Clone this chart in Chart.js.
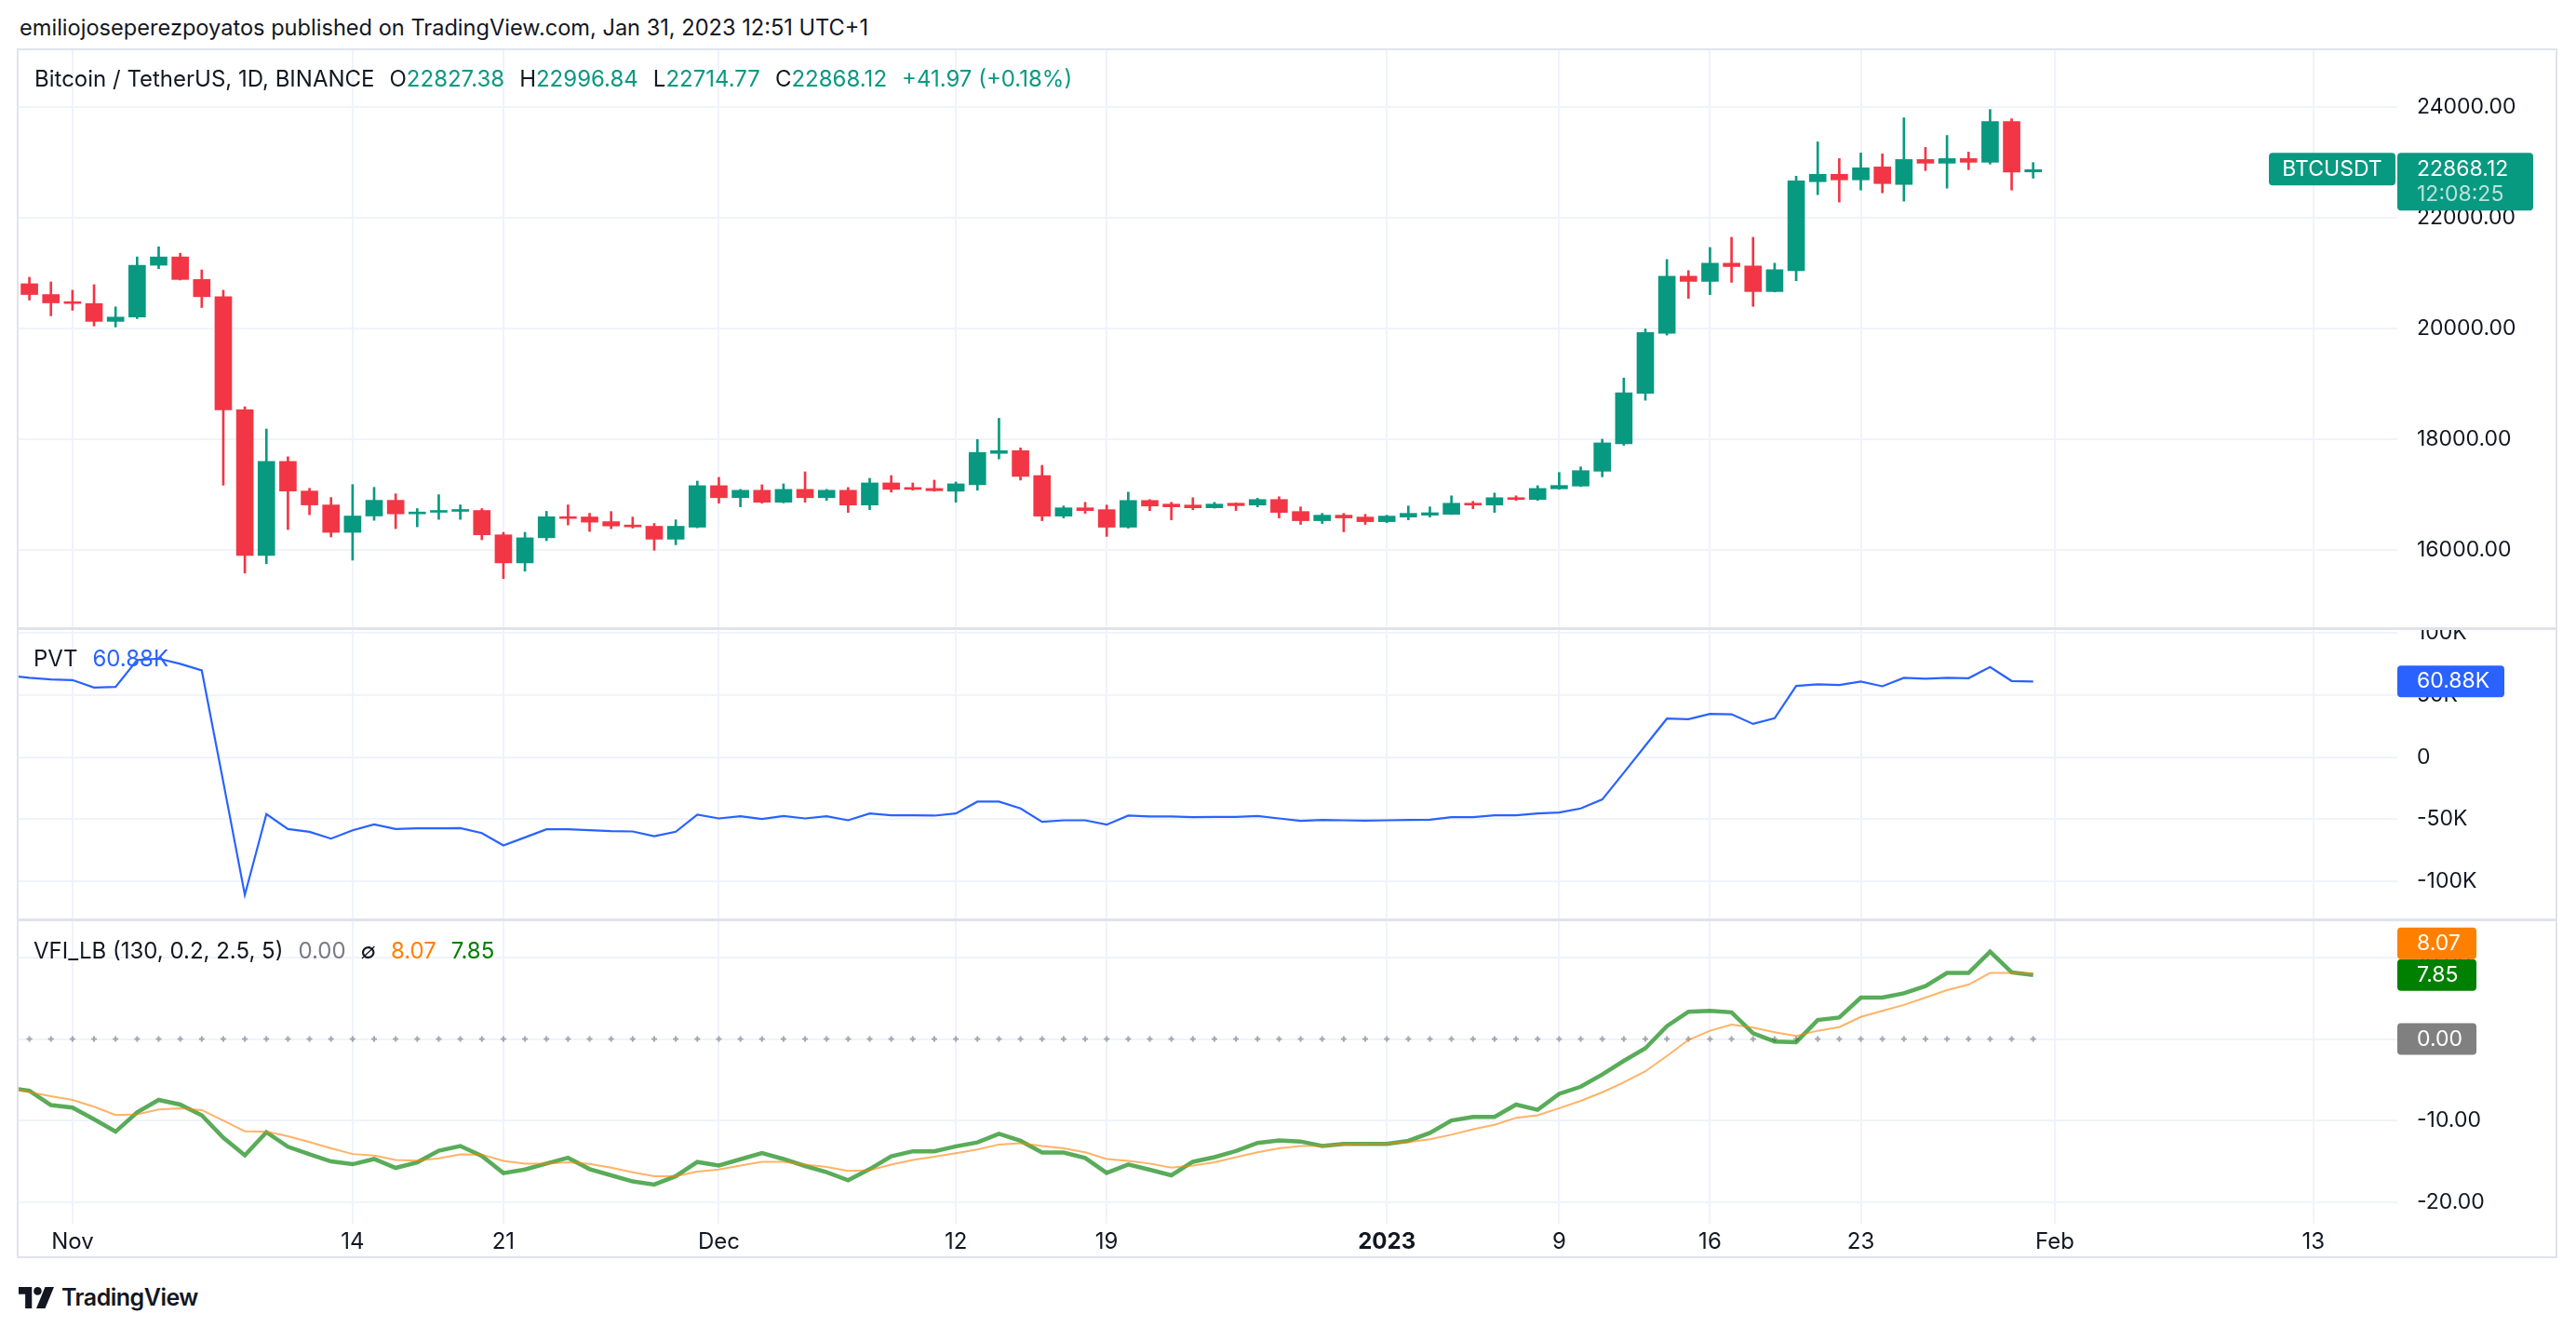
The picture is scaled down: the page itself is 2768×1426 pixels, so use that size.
<!DOCTYPE html>
<html>
<head>
<meta charset="utf-8">
<script src="https://cdn.jsdelivr.net/npm/chart.js@4.4.1/dist/chart.umd.min.js"></script>
<style>
  body { margin: 0; background: #fff; width: 2768px; height: 1426px; overflow: hidden; position: relative;
         font-family: Inter, "Noto Sans", sans-serif; color: #131722; }
  canvas { position: absolute; left: 0; }
  .txt { position: absolute; white-space: nowrap; font-size: 24px; line-height: 30px; }
  .k { margin-left: 16px; }
  .up { color: #089981; }
  #frame { position: absolute; left: 18px; top: 52px; width: 2730px; height: 1300px; box-sizing: border-box;
           border: 2px solid #E0E3EB; }
  .sep { position: absolute; left: 18px; width: 2730px; height: 3px; background: #E0E3EB; }
</style>
</head>
<body>
<div class="txt" style="left:21px;top:15px;font-size:23.6px">emiliojoseperezpoyatos published on TradingView.com, Jan 31, 2023 12:51 UTC+1</div>

<canvas id="cPrice" width="2768" height="623" style="top:53px"></canvas>
<canvas id="cPvt" width="2768" height="313" style="top:676px"></canvas>
<canvas id="cVfi" width="2768" height="363" style="top:989px"></canvas>

<div id="frame"></div>
<div class="sep" style="top:674px"></div>
<div class="sep" style="top:987px"></div>

<div class="txt" style="left:37px;top:70px">
  <span>Bitcoin / TetherUS, 1D, BINANCE</span><span class="k">O</span><span class="up" id="lgO"></span><span class="k">H</span><span class="up" id="lgH"></span><span class="k">L</span><span class="up" id="lgL"></span><span class="k">C</span><span class="up" id="lgC"></span><span class="k up" id="lgChg"></span>
</div>
<div class="txt" style="left:36px;top:693px"><span>PVT</span><span class="k" style="color:#2962FF" id="lgPvt"></span></div>
<div class="txt" style="left:36px;top:1007px">
  <span>VFI_LB (130, 0.2, 2.5, 5)</span><span class="k" style="color:#787B86" id="lgZero"></span><span class="k">∅</span><span class="k" style="color:#FF8000" id="lgSig"></span><span class="k" style="color:#008000" id="lgVfi"></span>
</div>

<div style="position:absolute;left:20px;top:1379px;display:flex;align-items:center">
  <svg width="38" height="23" viewBox="0 0 40 24">
    <path d="M0 0H15V24H7.5V8H0Z" fill="#131722"/>
    <circle cx="21.5" cy="4.5" r="4.5" fill="#131722"/>
    <path d="M30 0H40L30 24H20Z" fill="#131722"/>
  </svg>
  <span style="margin-left:8px;font-size:25px;font-weight:600;letter-spacing:-0.5px">TradingView</span>
</div>

<script>
// daily BTCUSDT candles, 30 Oct 2022 .. 31 Jan 2023 (x = bar index)
const opens = [20808,20613,20462,20451,20128,20206,21142,21292,20885,20574,
  18530,15900,17599,17064,16813,16318,16613,16897,16652,16680,
  16697,16713,16273,15766,16220,16600,16596,16511,16444,16428,
  16194,16411,17161,16944,17078,16861,17094,16944,17078,16811,
  17211,17128,17111,17061,17178,17744,17794,17344,16611,16761,
  16728,16411,16894,16828,16811,16761,16844,16811,16911,16694,
  16528,16628,16594,16511,16594,16628,16644,16844,16811,16944,
  16911,17104,17154,17422,17918,18827,19914,20945,20850,21179,
  21129,20666,21045,22651,22785,22684,22918,22601,23052,22985,
  23069,23002,23738,22827.38];
const highs = [20925,20841,20691,20791,20390,21292,21476,21359,21058,20691,
  18585,18184,17683,17114,16947,17181,17131,17014,16747,16998,
  16814,16747,16318,16318,16697,16814,16663,16694,16594,16478,
  16544,17244,17311,17094,17178,17194,17411,17094,17128,17294,
  17344,17211,17261,17228,17994,18378,17844,17528,16794,16861,
  16811,17044,16911,16861,16944,16861,16850,16933,16961,16778,
  16661,16661,16644,16628,16794,16778,16978,16878,17028,16978,
  17161,17399,17500,18001,19105,19992,21246,21045,21463,21647,
  21647,21179,22751,23370,23069,23169,23153,23805,23270,23487,
  23186,23955,23788,22996.84];
const lows = [20513,20228,20329,20045,20028,20178,21081,20875,20379,17170,
  15582,15750,16368,16635,16234,15816,16535,16384,16418,16552,
  16552,16184,15482,15616,16167,16451,16334,16383,16394,15994,
  16094,16400,16844,16778,16844,16850,16861,16894,16678,16728,
  17044,17078,17060,16861,17078,17644,17261,16528,16578,16661,
  16244,16394,16711,16544,16728,16755,16711,16778,16578,16461,
  16478,16328,16461,16494,16544,16594,16640,16744,16678,16894,
  16894,17094,17144,17321,17890,18704,19880,20544,20610,20833,
  20399,20660,20861,22417,22283,22500,22450,22300,22852,22534,
  22868,22969,22500,22714.77];
const closes = [20613,20462,20451,20128,20206,21142,21292,20885,20574,18530,
  15900,17599,17064,16813,16318,16613,16897,16652,16680,16697,
  16713,16273,15766,16220,16600,16568,16502,16433,16417,16194,
  16428,17161,16944,17078,16861,17094,16944,17078,16811,17211,
  17094,17094,17070,17194,17761,17794,17328,16611,16761,16711,
  16411,16894,16794,16778,16761,16828,16800,16911,16678,16528,
  16628,16578,16511,16611,16661,16672,16844,16811,16944,16911,
  17111,17165,17433,17934,18838,19925,20945,20850,21179,21118,
  20666,21062,22668,22785,22684,22902,22617,23052,22985,23069,
  23002,23738,22826.15,22868.12];

// indicator series start one bar earlier (29 Oct), so the lines enter from the left edge
const pvt = [65750,
  63750,62500,62000,56000,56500,78000,79250,75000,69750,-20000,
  -110750,-45750,-57750,-60000,-65500,-58750,-54000,-57750,-57250,-57250,
  -57000,-61000,-71000,-64500,-58000,-58000,-58750,-59500,-59750,-63500,
  -60000,-46250,-49250,-47500,-49750,-47250,-49250,-47500,-50750,-45250,
  -46750,-46750,-47000,-45250,-35750,-35750,-41250,-52000,-50750,-50750,
  -54250,-47000,-47750,-47750,-48250,-48000,-48000,-47250,-49250,-51250,
  -50500,-50750,-51000,-50750,-50500,-50250,-48250,-48250,-46750,-46750,
  -45250,-44500,-41250,-34000,-12500,9250,31000,30500,34750,34500,
  26750,31250,57250,58500,58000,60750,57000,63750,63000,63750,
  63500,72500,61250,60880];

const vfi = [-5.96,
  -6.34,-8.11,-8.42,-9.85,-11.36,-8.98,-7.47,-8.04,-9.36,-12.11,
  -14.26,-11.43,-13.21,-14.15,-15.02,-15.36,-14.72,-15.81,-15.13,-13.70,
  -13.13,-14.34,-16.45,-16.00,-15.28,-14.57,-15.96,-16.72,-17.47,-17.85,
  -16.83,-15.09,-15.51,-14.75,-14.00,-14.72,-15.58,-16.34,-17.32,-15.96,
  -14.38,-13.77,-13.77,-13.17,-12.68,-11.62,-12.49,-13.92,-13.92,-14.60,
  -16.42,-15.40,-16.04,-16.72,-15.06,-14.49,-13.74,-12.75,-12.45,-12.57,
  -13.13,-12.87,-12.87,-12.87,-12.49,-11.51,-10.00,-9.55,-9.55,-8.04,
  -8.68,-6.72,-5.85,-4.34,-2.68,-1.13,1.58,3.36,3.47,3.28,
  0.72,-0.30,-0.38,2.34,2.64,5.09,5.09,5.62,6.49,8.11,
  8.11,10.72,8.19,7.85];
const vfiSignal = [-5.93,
  -6.53,-7.02,-7.47,-8.30,-9.32,-9.25,-8.64,-8.49,-8.72,-10.00,
  -11.32,-11.36,-11.92,-12.64,-13.40,-14.11,-14.30,-14.83,-14.91,-14.64,
  -14.15,-14.19,-14.94,-15.28,-15.28,-15.13,-15.32,-15.77,-16.34,-16.83,
  -16.83,-16.26,-16.00,-15.51,-15.06,-15.06,-15.40,-15.70,-16.19,-16.08,
  -15.40,-14.83,-14.45,-14.00,-13.55,-12.94,-12.79,-13.13,-13.40,-13.89,
  -14.72,-14.94,-15.28,-15.77,-15.51,-15.13,-14.49,-13.89,-13.40,-13.13,
  -13.09,-12.94,-12.87,-12.83,-12.64,-12.30,-11.74,-11.06,-10.53,-9.66,
  -9.36,-8.49,-7.58,-6.53,-5.32,-3.96,-2.08,-0.11,1.02,1.77,
  1.40,0.83,0.38,1.02,1.47,2.72,3.47,4.19,5.09,6.00,
  6.68,8.11,8.11,8.07];
const vfiLevel = 0;

// time axis: bar index of each labelled day
const tickIdx = [2, 15, 22, 32, 43, 50, 63, 71, 78, 85, 94, 106];
const tickLabels = ['Nov', '14', '21', 'Dec', '12', '19', '2023', '9', '16', '23', 'Feb', '13'];
const priceTicks = [16000, 18000, 20000, 22000, 24000];
const pvtTicks = [-100000, -50000, 0, 50000, 100000];
const vfiTicks = [-20, -10, 0, 10];

const GREEN = '#089981', RED = '#F23645', GRID = '#F0F3FA';
const last = closes.length - 1;
const iLast = pvt.length - 1;
const FONT = 'Inter, "Noto Sans", sans-serif';

Chart.defaults.font.family = FONT;
Chart.defaults.color = '#131722';
Chart.defaults.animation = false;

// legends
const fmt2 = v => v.toFixed(2);
document.getElementById('lgO').textContent = fmt2(opens[last]);
document.getElementById('lgH').textContent = fmt2(highs[last]);
document.getElementById('lgL').textContent = fmt2(lows[last]);
document.getElementById('lgC').textContent = fmt2(closes[last]);
const chg = closes[last] - closes[last - 1];
document.getElementById('lgChg').textContent = '+' + chg.toFixed(2) + ' (+' + (chg / closes[last - 1] * 100).toFixed(2) + '%)';
document.getElementById('lgPvt').textContent = (pvt[iLast] / 1000).toFixed(2) + 'K';
document.getElementById('lgZero').textContent = fmt2(vfiLevel);
document.getElementById('lgSig').textContent = fmt2(vfiSignal[iLast]);
document.getElementById('lgVfi').textContent = fmt2(vfi[iLast]);

// no automatic padding: panes must fill their canvases exactly
const noPad = s => { s.paddingTop = 0; s.paddingBottom = 0; s.paddingLeft = 0; s.paddingRight = 0; };

function xAxis(showLabels) {
  return {
    type: 'linear', min: -0.5, max: 109.9, offset: false,
    afterBuildTicks: s => { s.ticks = tickIdx.map(v => ({ value: v })); },
    afterFit: s => { s.height = showLabels ? 37 : 0; noPad(s); },
    grid: { color: GRID, lineWidth: 2, drawTicks: false, offset: false },
    border: { display: false },
    ticks: {
      display: showLabels, autoSkip: false, maxRotation: 0, padding: 5,
      font: c => ({ size: 24, weight: c.tick && c.tick.value === 63 ? 'bold' : 'normal' }),
      callback: v => tickLabels[tickIdx.indexOf(v)]
    }
  };
}

function yAxis(min, max, ticks, fmt) {
  return {
    position: 'right', min: min, max: max,
    afterBuildTicks: s => { s.ticks = ticks.map(v => ({ value: v })); },
    afterFit: s => { s.width = 172; noPad(s); },
    grid: { color: GRID, lineWidth: 2, drawTicks: false },
    border: { display: false },
    ticks: { padding: 21, font: { size: 23 }, callback: fmt }
  };
}

const baseOptions = (scales) => ({
  responsive: false,
  devicePixelRatio: 1,
  layout: { autoPadding: false, padding: { left: 20, right: 20, top: 0, bottom: 0 } },
  plugins: { legend: { display: false }, tooltip: { enabled: false } },
  scales: scales
});

function badge(ctx, x, y, w, h, bg, lines) {
  ctx.save();
  ctx.fillStyle = bg;
  ctx.beginPath();
  ctx.roundRect(x, y, w, h, 4);
  ctx.fill();
  ctx.textBaseline = 'middle';
  ctx.font = '23px ' + FONT;
  lines.forEach(l => {
    ctx.fillStyle = l.color || '#fff';
    ctx.textAlign = l.align || 'left';
    ctx.fillText(l.text, l.x, l.y);
  });
  ctx.restore();
}

const candleColor = c => closes[c.dataIndex] >= opens[c.dataIndex] ? GREEN : RED;
const series = arr => arr.map((v, i) => ({ x: i - 1, y: v }));

new Chart(document.getElementById('cPrice'), {
  type: 'bar',
  data: {
    datasets: [
      { data: opens.map((o, i) => ({ x: i, y: [lows[i], highs[i]] })), barThickness: 2, grouped: false,
        backgroundColor: candleColor, borderWidth: 0 },
      { data: opens.map((o, i) => ({ x: i, y: [o, closes[i]] })), barThickness: 18, grouped: false,
        minBarLength: 2, backgroundColor: candleColor, borderWidth: 0 }
    ]
  },
  options: baseOptions({
    x: xAxis(false),
    y: yAxis(14571, 25042, priceTicks, v => v.toFixed(2))
  }),
  plugins: [{
    id: 'priceBadges',
    afterDraw(chart) {
      const ctx = chart.ctx;
      const y = chart.scales.y.getPixelForValue(closes[last]);
      const col = closes[last] >= opens[last] ? GREEN : RED;
      badge(ctx, 2438, y - 18, 136, 35, col, [{ text: 'BTCUSDT', x: 2506, y: y, align: 'center' }]);
      badge(ctx, 2576, y - 18, 146, 62, col, [
        { text: closes[last].toFixed(2), x: 2597, y: y },
        { text: '12:08:25', x: 2597, y: y + 27, color: 'rgba(255,255,255,0.72)' }
      ]);
    }
  }]
});

new Chart(document.getElementById('cPvt'), {
  type: 'line',
  data: {
    datasets: [{ data: series(pvt), borderColor: '#2962FF', borderWidth: 2.2, pointRadius: 0, tension: 0 }]
  },
  options: baseOptions({
    x: xAxis(false),
    y: yAxis(-131200, 103000, pvtTicks, v => v === 0 ? '0' : (v / 1000) + 'K')
  }),
  plugins: [{
    id: 'pvtBadge',
    afterDraw(chart) {
      const y = chart.scales.y.getPixelForValue(pvt[iLast]);
      badge(chart.ctx, 2576, y - 17, 115, 34, '#2962FF',
            [{ text: (pvt[iLast] / 1000).toFixed(2) + 'K', x: 2597, y: y }]);
    }
  }]
});

new Chart(document.getElementById('cVfi'), {
  type: 'line',
  data: {
    datasets: [
      { data: series(vfiSignal), borderColor: 'rgba(255,128,0,0.6)', borderWidth: 2, pointRadius: 0, tension: 0 },
      { data: series(vfi), borderColor: 'rgba(0,128,0,0.65)', borderWidth: 4.5, pointRadius: 0, tension: 0 }
    ]
  },
  options: baseOptions({
    x: xAxis(true),
    y: yAxis(-22.66, 14.57, vfiTicks, v => v.toFixed(2))
  }),
  plugins: [{
    id: 'vfiExtras',
    beforeDatasetsDraw(chart) {
      // zero level plotted as crosses on every bar
      const ctx = chart.ctx, xs = chart.scales.x;
      const y = chart.scales.y.getPixelForValue(vfiLevel);
      ctx.save();
      ctx.strokeStyle = '#A3A6AF';
      ctx.lineWidth = 2;
      closes.forEach((v, i) => {
        const x = xs.getPixelForValue(i);
        ctx.beginPath();
        ctx.moveTo(x - 3, y); ctx.lineTo(x + 3, y);
        ctx.moveTo(x, y - 3); ctx.lineTo(x, y + 3);
        ctx.stroke();
      });
      ctx.restore();
    },
    afterDraw(chart) {
      const ctx = chart.ctx, ys = chart.scales.y;
      const y0 = ys.getPixelForValue(vfiLevel);
      badge(ctx, 2576, y0 - 17, 85, 34, '#808080', [{ text: vfiLevel.toFixed(2), x: 2597, y: y0 }]);
      const yv = ys.getPixelForValue(vfi[iLast]);
      badge(ctx, 2576, yv - 17, 85, 34, '#008000', [{ text: vfi[iLast].toFixed(2), x: 2597, y: yv }]);
      badge(ctx, 2576, yv - 51, 85, 34, '#FF8000', [{ text: vfiSignal[iLast].toFixed(2), x: 2597, y: yv - 34 }]);
    }
  }]
});
</script>
</body>
</html>
